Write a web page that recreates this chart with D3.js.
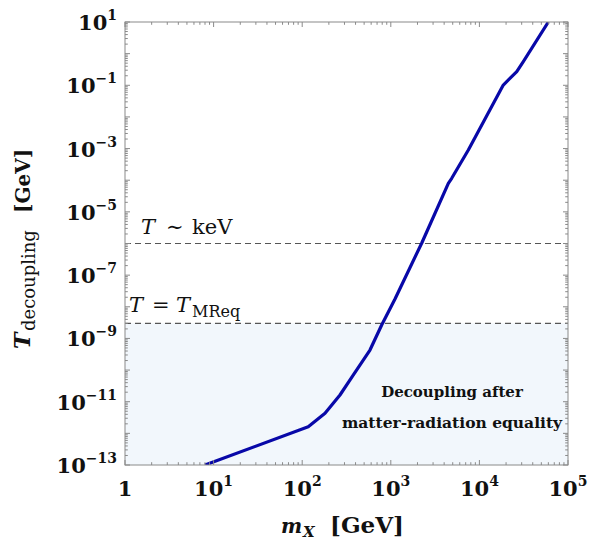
<!DOCTYPE html>
<html>
<head>
<meta charset="utf-8">
<script src="https://cdn.jsdelivr.net/npm/d3@7"></script>
<style>
  html, body { margin: 0; padding: 0; background: #fff; }
  svg { display: block; }
  text { font-family: "DejaVu Serif", "Liberation Serif", serif; fill: #111; }
</style>
</head>
<body>
<svg id="chart" width="589" height="545"></svg>
<script>
// Decoupling temperature versus particle mass (GeV)
const massGeV = [8.0, 117, 181, 267, 378, 582, 789, 1115, 2230, 4460, 4870, 7500, 18600, 26400, 31300, 60000];
const tDecouplingGeV = [1e-13, 1.62e-12, 4.3e-12, 1.63e-11, 7.0e-11, 4.3e-10, 2.66e-9, 1.77e-8, 1.02e-6, 8.0e-5, 1.15e-4, 9.0e-4, 0.102, 0.27, 0.56, 10];

// Reference temperatures (GeV)
const tKeV = 1e-6;
const tMatterRadEq = 3e-9;

// Axis tick labels
const xTickExps = [0, 1, 2, 3, 4, 5];
const yTickExps = [1, -1, -3, -5, -7, -9, -11, -13];

const svg = d3.select("#chart");
const pLeft = 125, pRight = 568, pTop = 22, pBottom = 465;

const x = d3.scaleLog().domain([1, 1e5]).range([pLeft, pRight]);
const y = d3.scaleLog().domain([1e-13, 10]).range([pBottom, pTop]);

svg.append("defs").append("clipPath").attr("id", "plot-clip")
  .append("rect").attr("x", pLeft).attr("y", pTop)
  .attr("width", pRight - pLeft).attr("height", pBottom - pTop);

// Shaded region below matter-radiation equality
svg.append("rect")
  .attr("x", pLeft).attr("y", y(tMatterRadEq))
  .attr("width", pRight - pLeft).attr("height", pBottom - y(tMatterRadEq))
  .attr("fill", "#f2f7fc");

// Horizontal reference lines
[tKeV, tMatterRadEq].forEach(t => {
  svg.append("line")
    .attr("x1", pLeft).attr("x2", pRight)
    .attr("y1", y(t)).attr("y2", y(t))
    .attr("stroke", "#555").attr("stroke-width", 1.2)
    .attr("stroke-dasharray", "6,4");
});

// Curve
const line = d3.line().x((d, i) => x(massGeV[i])).y(d => y(d));
svg.append("path")
  .datum(tDecouplingGeV)
  .attr("clip-path", "url(#plot-clip)")
  .attr("d", line)
  .attr("fill", "none")
  .attr("stroke", "#0808a8")
  .attr("stroke-width", 3.2)
  .attr("stroke-linejoin", "round");

// Frame
svg.append("rect")
  .attr("x", pLeft).attr("y", pTop)
  .attr("width", pRight - pLeft).attr("height", pBottom - pTop)
  .attr("fill", "none").attr("stroke", "#8a8a8a").attr("stroke-width", 1);

// Inward ticks on all four sides
const tickG = svg.append("g").attr("stroke", "#8a8a8a").attr("stroke-width", 1);
const majorLen = 5, minorLen = 2.8;
function decadeTicks(lo, hi) {
  const out = [];
  for (let e = lo; e <= hi; e++) {
    for (let m = 1; m <= 9; m++) {
      const v = m * Math.pow(10, e);
      if (e === hi && m > 1) break;
      out.push({ v, major: m === 1 });
    }
  }
  return out;
}
decadeTicks(0, 5).forEach(t => {
  const px = x(t.v), L = t.major ? majorLen : minorLen;
  tickG.append("line").attr("x1", px).attr("x2", px).attr("y1", pBottom).attr("y2", pBottom - L);
  tickG.append("line").attr("x1", px).attr("x2", px).attr("y1", pTop).attr("y2", pTop + L);
});
decadeTicks(-13, 1).forEach(t => {
  const py = y(t.v), L = t.major ? majorLen : minorLen;
  tickG.append("line").attr("y1", py).attr("y2", py).attr("x1", pLeft).attr("x2", pLeft + L);
  tickG.append("line").attr("y1", py).attr("y2", py).attr("x1", pRight).attr("x2", pRight - L);
});

function fmtExp(e) { return e < 0 ? "\u2212" + (-e) : String(e); }

// X tick labels
xTickExps.forEach(e => {
  const t = svg.append("text")
    .attr("x", x(Math.pow(10, e)))
    .attr("y", 496)
    .attr("text-anchor", "middle")
    .attr("font-size", 21).attr("font-weight", "bold");
  if (e === 0) { t.text("1"); return; }
  t.append("tspan").text("10");
  t.append("tspan").attr("font-size", 14).attr("dy", -10).text(fmtExp(e));
});

// Y tick labels
yTickExps.forEach(e => {
  const t = svg.append("text")
    .attr("x", 117)
    .attr("y", y(Math.pow(10, e)) + 8)
    .attr("text-anchor", "end")
    .attr("font-size", 21).attr("font-weight", "bold");
  t.append("tspan").text("10");
  t.append("tspan").attr("font-size", 14).attr("dy", -10).text(fmtExp(e));
});

// Axis titles
const xt = svg.append("text")
  .attr("x", 281).attr("y", 533)
  .attr("font-size", 20).attr("font-weight", "bold");
xt.append("tspan").attr("font-style", "italic").text("m");
xt.append("tspan").attr("x", 303).attr("dy", 4).attr("font-style", "italic").attr("font-size", 15).text("X");
xt.append("tspan").attr("x", 330).attr("dy", -4).attr("font-size", 23).text("[GeV]");

const yt = svg.append("text")
  .attr("transform", "translate(30,0) rotate(-90)")
  .attr("x", -349).attr("y", 0)
  .attr("font-size", 22).attr("font-weight", "bold");
yt.append("tspan").attr("font-style", "italic").text("T");
yt.append("tspan").attr("x", -331).attr("dy", 5).attr("font-size", 18).attr("font-weight", "normal").text("decoupling");
yt.append("tspan").attr("x", -213).attr("dy", -5).attr("font-size", 20).text("[GeV]");

// Reference line labels
const a1 = svg.append("text").attr("x", 141).attr("y", 234).attr("font-size", 21);
a1.append("tspan").attr("font-style", "italic").text("T");
a1.append("tspan").attr("x", 166).text("\u223C");
a1.append("tspan").attr("x", 192).text("keV");

const a2 = svg.append("text").attr("x", 129).attr("y", 312).attr("font-size", 21);
a2.append("tspan").attr("font-style", "italic").text("T");
a2.append("tspan").attr("x", 152).text("=");
a2.append("tspan").attr("x", 176).attr("font-style", "italic").text("T");
a2.append("tspan").attr("x", 192).attr("dy", 5).attr("font-size", 16).text("MReq");

// Region label
svg.append("text").attr("x", 452).attr("y", 397)
  .attr("text-anchor", "middle").attr("font-size", 15).attr("font-weight", "bold")
  .text("Decoupling after");
svg.append("text").attr("x", 452).attr("y", 428)
  .attr("text-anchor", "middle").attr("font-size", 15.5).attr("font-weight", "bold")
  .text("matter-radiation equality");
</script>
</body>
</html>
